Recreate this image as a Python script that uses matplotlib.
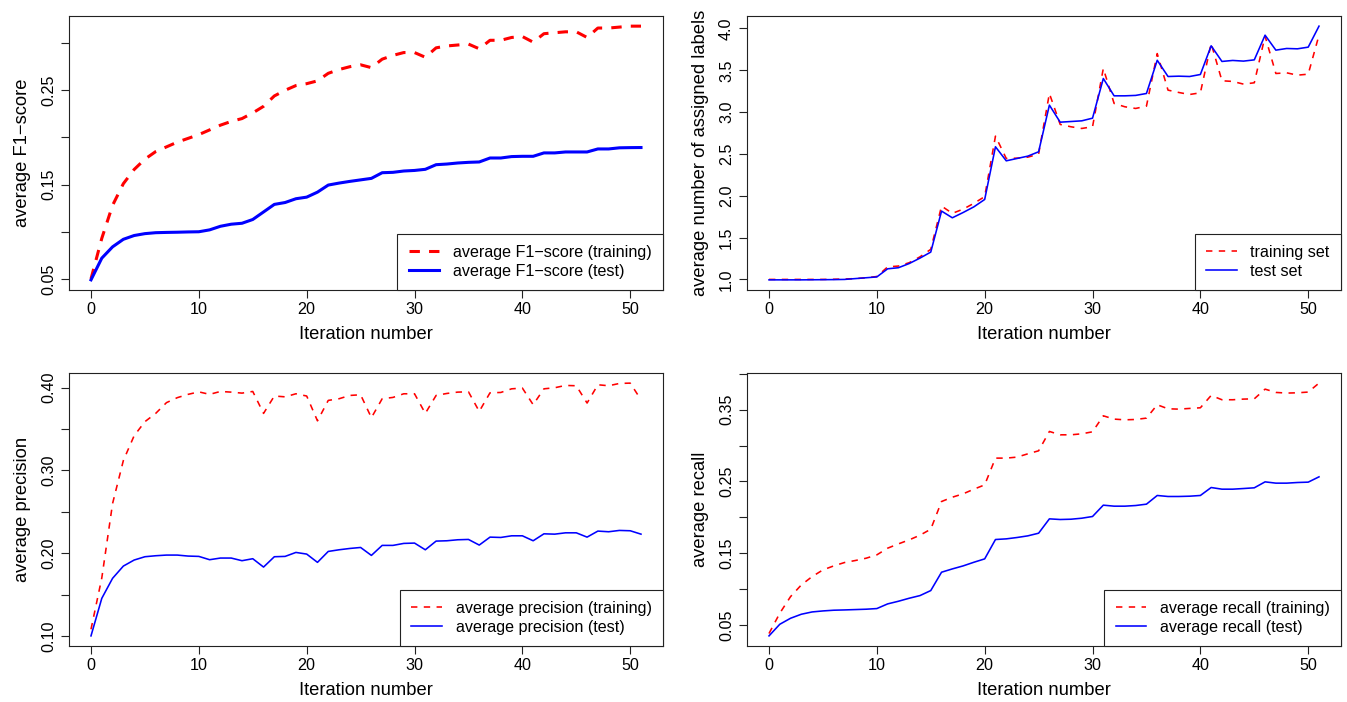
import matplotlib
matplotlib.use("Agg")
import matplotlib.pyplot as plt
import numpy as np

plt.rcParams['font.family'] = ['Liberation Sans', 'DejaVu Sans']

iterations = list(range(52))

f1_train = [0.050, 0.093, 0.128, 0.151, 0.166, 0.177, 0.185, 0.190, 0.195, 0.199,
            0.203, 0.208, 0.213, 0.217, 0.220, 0.226, 0.233, 0.244, 0.250, 0.255,
            0.257, 0.260, 0.268, 0.272, 0.275, 0.277, 0.274, 0.283, 0.287, 0.290,
            0.290, 0.285, 0.295, 0.297, 0.298, 0.299, 0.294, 0.303, 0.303, 0.306,
            0.307, 0.301, 0.310, 0.311, 0.312, 0.312, 0.306, 0.316, 0.316, 0.317,
            0.318, 0.318]
f1_test = [0.049, 0.072, 0.084, 0.092, 0.096, 0.098, 0.099, 0.0993, 0.0995, 0.0998,
           0.100, 0.102, 0.1058, 0.108, 0.109, 0.113, 0.121, 0.129, 0.131, 0.135,
           0.1367, 0.142, 0.1495, 0.1516, 0.1534, 0.155, 0.1566, 0.1626, 0.163, 0.1644,
           0.165, 0.1662, 0.1711, 0.1718, 0.1729, 0.1736, 0.174, 0.1782, 0.1782, 0.1797,
           0.180, 0.180, 0.1836, 0.1836, 0.1846, 0.1846, 0.1846, 0.1878, 0.1878, 0.189,
           0.1892, 0.1893]

labels_train = [1.0, 1.0, 1.0, 1.0, 1.0, 1.0, 1.002, 1.005, 1.01, 1.02,
                1.035, 1.15, 1.16, 1.20, 1.27, 1.36, 1.877, 1.79, 1.84, 1.91,
                1.99, 2.713, 2.446, 2.45, 2.462, 2.498, 3.223, 2.853, 2.825, 2.805,
                2.825, 3.522, 3.104, 3.064, 3.044, 3.072, 3.70, 3.263, 3.235, 3.211,
                3.231, 3.821, 3.375, 3.367, 3.335, 3.351, 3.908, 3.462, 3.47, 3.442,
                3.454, 3.92]
labels_test = [0.995, 0.995, 0.995, 0.995, 0.996, 0.997, 0.998, 1.0, 1.01, 1.02,
               1.03, 1.127, 1.14, 1.19, 1.255, 1.327, 1.817, 1.737, 1.80, 1.868,
               1.956, 2.586, 2.418, 2.446, 2.474, 2.526, 3.084, 2.88, 2.888, 2.896,
               2.928, 3.402, 3.195, 3.195, 3.20, 3.223, 3.62, 3.426, 3.43, 3.426,
               3.45, 3.793, 3.606, 3.618, 3.61, 3.625, 3.92, 3.741, 3.761, 3.757,
               3.777, 4.028]

prec_train = [0.108, 0.170, 0.260, 0.312, 0.342, 0.359, 0.369, 0.382, 0.388, 0.392,
              0.395, 0.392, 0.3955, 0.3947, 0.3935, 0.3955, 0.369, 0.390, 0.389, 0.3927,
              0.390, 0.360, 0.3847, 0.3867, 0.3907, 0.3915, 0.3638, 0.3867, 0.3883, 0.3927,
              0.3927, 0.369, 0.3907, 0.3931, 0.3947, 0.3951, 0.3714, 0.3939, 0.3943, 0.3987,
              0.3996, 0.3795, 0.3987, 0.400, 0.4028, 0.4024, 0.3815, 0.4036, 0.4024, 0.4052,
              0.4056, 0.3855]
prec_test = [0.100, 0.1454, 0.1696, 0.1844, 0.1917, 0.1957, 0.1969, 0.1977, 0.1977, 0.1965,
             0.1961, 0.1921, 0.1941, 0.1941, 0.1909, 0.1933, 0.1832, 0.1957, 0.1961, 0.2009,
             0.1989, 0.1889, 0.2021, 0.2041, 0.2057, 0.2069, 0.1973, 0.2094, 0.2094, 0.2118,
             0.2122, 0.2041, 0.2146, 0.215, 0.2162, 0.2166, 0.2098, 0.2194, 0.219, 0.221,
             0.221, 0.215, 0.2234, 0.223, 0.2246, 0.2246, 0.2194, 0.2267, 0.2259, 0.2275,
             0.2271, 0.223]

rec_train = [0.038, 0.0663, 0.0895, 0.1058, 0.1174, 0.1267, 0.1323, 0.137, 0.1398, 0.143,
             0.1477, 0.157, 0.163, 0.1686, 0.1751, 0.1835, 0.2221, 0.2281, 0.2328, 0.2393,
             0.2453, 0.2826, 0.2826, 0.284, 0.2886, 0.2928, 0.3198, 0.3151, 0.3151, 0.3165,
             0.3193, 0.3416, 0.337, 0.336, 0.3365, 0.3384, 0.357, 0.3514, 0.3509, 0.3519,
             0.3528, 0.370, 0.364, 0.364, 0.3649, 0.3653, 0.3788, 0.3742, 0.3733, 0.3737,
             0.3747, 0.3872]
rec_test = [0.0347, 0.0509, 0.0593, 0.0649, 0.0681, 0.0695, 0.0705, 0.0709, 0.0714, 0.0719,
            0.0728, 0.0793, 0.083, 0.0872, 0.0909, 0.0979, 0.1235, 0.1281, 0.1323, 0.1374,
            0.1421, 0.1691, 0.170, 0.1719, 0.1742, 0.1779, 0.1979, 0.197, 0.1974, 0.1988,
            0.2012, 0.217, 0.2156, 0.2156, 0.2165, 0.2184, 0.2305, 0.2291, 0.2291, 0.2295,
            0.2305, 0.2416, 0.2393, 0.2393, 0.2402, 0.2412, 0.2495, 0.2477, 0.2477, 0.2486,
            0.2491, 0.2565]

x_ticks = [0, 10, 20, 30, 40, 50]

panels = [
    dict(rect=[69, 16, 594, 274], train=f1_train, test=f1_test,
         ylabel="average F1\u2212score",
         yticks=[0.05, 0.10, 0.15, 0.20, 0.25, 0.30],
         ylabels=["0.05", "", "0.15", "", "0.25", ""],
         leg=["average F1\u2212score (training)", "average F1\u2212score (test)"],
         lw=2.2, dashes=(3.4, 3.0)),
    dict(rect=[747, 16, 594, 274], train=labels_train, test=labels_test,
         ylabel="average number of assigned labels",
         yticks=[1.0, 1.5, 2.0, 2.5, 3.0, 3.5, 4.0],
         ylabels=["1.0", "1.5", "2.0", "2.5", "3.0", "3.5", "4.0"],
         leg=["training set", "test set"],
         lw=1.15, dashes=(4, 4)),
    dict(rect=[69, 373, 594, 273], train=prec_train, test=prec_test,
         ylabel="average precision",
         yticks=[0.10, 0.15, 0.20, 0.25, 0.30, 0.35, 0.40],
         ylabels=["0.10", "", "0.20", "", "0.30", "", "0.40"],
         leg=["average precision (training)", "average precision (test)"],
         lw=1.15, dashes=(4, 4)),
    dict(rect=[747, 373, 594, 273], train=rec_train, test=rec_test,
         ylabel="average recall",
         yticks=[0.05, 0.10, 0.15, 0.20, 0.25, 0.30, 0.35, 0.40],
         ylabels=["0.05", "", "0.15", "", "0.25", "", "0.35", ""],
         leg=["average recall (training)", "average recall (test)"],
         lw=1.15, dashes=(4, 4)),
]

W, H = 1347, 702
fig = plt.figure(figsize=(W / 100, H / 100), dpi=100)

for p in panels:
    x0, y0, w, h = p["rect"]
    ax = fig.add_axes([x0 / W, 1 - (y0 + h) / H, w / W, h / H])
    ax.plot(iterations, p["train"], color="#FF0000", lw=p["lw"],
            linestyle="--", dashes=p["dashes"], label=p["leg"][0])
    ax.plot(iterations, p["test"], color="#0000FF", lw=p["lw"],
            linestyle="-", label=p["leg"][1])
    lo = min(min(p["train"]), min(p["test"]))
    hi = max(max(p["train"]), max(p["test"]))
    r = hi - lo
    ax.set_ylim(lo - 0.04 * r, hi + 0.04 * r)
    ax.set_xlim(-0.04 * 51, 51 * 1.04)
    ax.set_xticks(x_ticks)
    ax.set_xticklabels([str(t) for t in x_ticks])
    ax.set_yticks(p["yticks"])
    ax.set_yticklabels(p["ylabels"])
    ax.tick_params(axis="both", direction="out", length=5.8, width=0.8,
                   labelsize=11.6, color="#222222")
    ax.tick_params(axis="x", pad=3.0)
    ax.tick_params(axis="y", pad=3.5, labelrotation=90)
    for lab in ax.get_yticklabels():
        lab.set_va("center")
    for s in ax.spines.values():
        s.set_linewidth(0.8)
        s.set_color("#222222")
    ax.set_xlabel("Iteration number", fontsize=13.2, labelpad=6)
    ax.set_ylabel(p["ylabel"], fontsize=13.2, labelpad=7)
    leg = ax.legend(loc="lower right", fontsize=11.6, frameon=True,
                    fancybox=False, borderaxespad=0, handlelength=1.9,
                    handletextpad=0.85, borderpad=0.7, labelspacing=0.24,
                    framealpha=1)
    leg.get_frame().set_edgecolor("#222222")
    leg.get_frame().set_linewidth(0.8)

fig.savefig("out.png", dpi=100)
